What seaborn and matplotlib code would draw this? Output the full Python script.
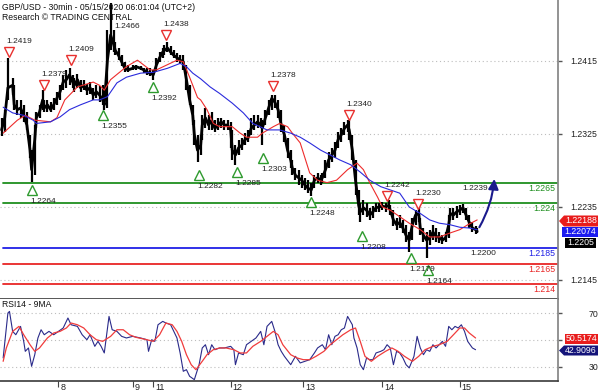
import matplotlib
matplotlib.use("Agg")
import numpy as np
import pandas as pd
import matplotlib.pyplot as plt
import matplotlib.transforms as mtransforms
from matplotlib.patches import Polygon, FancyArrowPatch
import seaborn as sns

# ---------------- data ----------------
title_line1 = "GBP/USD - 30min - 05/15/2020 06:01:04 (UTC+2)"
title_line2 = "Research \u00a9 TRADING CENTRAL"
rsi_title = "RSI14 - 9MA"

# 30-minute bar index (sampled), price close / high / low
bar_idx = [1,3,5,8,9,11,13,15,17,19, 20,22,23,25,27,28,30,32,34,36,
           38,40,42,44,46,47,49,51,53,55, 57,59,61,63,65,66,68,70,72,73,
           75,77,79,81,84,86,89,91,93,95, 97,99,101,103,104,106,108,110,112,114,
           116,118,120,122,123,125,127,128,130,132, 134,136,138,140,142,144,146,147,149,151,
           153,155,157,159,161,163,165,166,168,170, 172,174,176,178,180,182,184,185,187,189,
           191,193,195,197,199,201,203,204,206,208, 210,212,214,216,218,220,221,223,225,227,
           228,230,232,234,236,238,240,242,244,246, 247,249,251,253,255,257,259,261,263,265,
           266,268,270,272,274,276,278,280,282,284, 285,287,289,291,293,295,297,299,301,302]
close = [1.2330,1.2345,1.2382,1.2385,1.2361,1.2355,1.2357,1.2348,1.2336,1.2305,
         1.2281,1.2318,1.2345,1.2352,1.2367,1.2357,1.2361,1.2355,1.2361,1.2369,
         1.2377,1.2389,1.2392,1.2398,1.2389,1.2385,1.2392,1.2382,1.2385,1.2379,
         1.2382,1.2373,1.2377,1.2373,1.2367,1.2361,1.2416,1.2447,1.2435,1.2428,
         1.2422,1.2414,1.2406,1.2404,1.2406,1.2408,1.2406,1.2404,1.2401,1.2400,
         1.2398,1.2410,1.2419,1.2426,1.2428,1.2431,1.2426,1.2422,1.2419,1.2416,
         1.2414,1.2392,1.2367,1.2348,1.2324,1.2305,1.2311,1.2336,1.2345,1.2336,
         1.2342,1.2332,1.2336,1.2340,1.2336,1.2336,1.2330,1.2305,1.2299,1.2308,
         1.2311,1.2318,1.2320,1.2332,1.2336,1.2340,1.2336,1.2332,1.2345,1.2357,
         1.2369,1.2364,1.2355,1.2336,1.2324,1.2305,1.2293,1.2283,1.2274,1.2271,
         1.2268,1.2262,1.2258,1.2256,1.2268,1.2271,1.2268,1.2271,1.2281,1.2293,
         1.2299,1.2305,1.2318,1.2324,1.2332,1.2336,1.2330,1.2305,1.2268,1.2237,
         1.2229,1.2234,1.2231,1.2225,1.2229,1.2234,1.2235,1.2236,1.2235,1.2237,
         1.2231,1.2219,1.2213,1.2216,1.2209,1.2200,1.2194,1.2213,1.2225,1.2227,
         1.2209,1.2200,1.2194,1.2197,1.2204,1.2199,1.2197,1.2194,1.2197,1.2213,
         1.2227,1.2225,1.2229,1.2231,1.2234,1.2225,1.2216,1.2209,1.2207,1.2205]
high = [1.2345,1.2355,1.2419,1.2394,1.2385,1.2367,1.2367,1.2361,1.2352,1.2324,
        1.2305,1.2336,1.2352,1.2361,1.2379,1.2367,1.2367,1.2364,1.2369,1.2377,
        1.2385,1.2398,1.2404,1.2406,1.2398,1.2394,1.2399,1.2392,1.2392,1.2387,
        1.2389,1.2382,1.2385,1.2384,1.2385,1.2369,1.2453,1.2486,1.2453,1.2438,
        1.2431,1.2422,1.2414,1.2410,1.2410,1.2410,1.2409,1.2406,1.2406,1.2406,
        1.2404,1.2419,1.2426,1.2431,1.2435,1.2438,1.2433,1.2428,1.2425,1.2422,
        1.2422,1.2410,1.2385,1.2361,1.2342,1.2324,1.2324,1.2348,1.2357,1.2348,
        1.2352,1.2342,1.2345,1.2345,1.2342,1.2342,1.2340,1.2330,1.2311,1.2318,
        1.2320,1.2326,1.2330,1.2345,1.2348,1.2348,1.2345,1.2342,1.2355,1.2367,
        1.2373,1.2373,1.2367,1.2355,1.2336,1.2320,1.2305,1.2293,1.2283,1.2281,
        1.2274,1.2271,1.2268,1.2265,1.2274,1.2277,1.2274,1.2277,1.2293,1.2303,
        1.2308,1.2315,1.2327,1.2332,1.2340,1.2342,1.2342,1.2324,1.2293,1.2256,
        1.2240,1.2244,1.2240,1.2234,1.2236,1.2240,1.2240,1.2241,1.2240,1.2244,
        1.2237,1.2231,1.2221,1.2225,1.2219,1.2213,1.2204,1.2221,1.2231,1.2237,
        1.2221,1.2209,1.2204,1.2207,1.2213,1.2209,1.2204,1.2200,1.2204,1.2225,
        1.2234,1.2234,1.2236,1.2237,1.2239,1.2234,1.2225,1.2216,1.2211,1.2209]
low = [1.2322,1.2327,1.2367,1.2373,1.2355,1.2348,1.2345,1.2340,1.2330,1.2295,
       1.2266,1.2274,1.2332,1.2345,1.2355,1.2352,1.2352,1.2352,1.2355,1.2361,
       1.2367,1.2379,1.2382,1.2385,1.2382,1.2377,1.2382,1.2377,1.2379,1.2373,
       1.2374,1.2367,1.2369,1.2364,1.2361,1.2355,1.2357,1.2428,1.2426,1.2422,
       1.2416,1.2409,1.2401,1.2401,1.2404,1.2404,1.2404,1.2400,1.2398,1.2396,
       1.2392,1.2401,1.2414,1.2419,1.2422,1.2426,1.2422,1.2419,1.2414,1.2411,
       1.2404,1.2379,1.2361,1.2336,1.2311,1.2290,1.2299,1.2318,1.2332,1.2330,
       1.2330,1.2327,1.2330,1.2332,1.2330,1.2330,1.2308,1.2293,1.2287,1.2299,
       1.2305,1.2311,1.2315,1.2324,1.2330,1.2332,1.2332,1.2311,1.2336,1.2348,
       1.2355,1.2357,1.2345,1.2327,1.2315,1.2295,1.2283,1.2274,1.2268,1.2262,
       1.2258,1.2256,1.2252,1.2249,1.2258,1.2265,1.2262,1.2265,1.2271,1.2283,
       1.2290,1.2295,1.2308,1.2315,1.2324,1.2327,1.2318,1.2293,1.2250,1.2225,
       1.2216,1.2225,1.2223,1.2219,1.2221,1.2229,1.2229,1.2231,1.2229,1.2231,
       1.2225,1.2211,1.2207,1.2209,1.2203,1.2192,1.2179,1.2194,1.2213,1.2216,
       1.2200,1.2192,1.2172,1.2188,1.2194,1.2192,1.2190,1.2189,1.2192,1.2197,
       1.2219,1.2219,1.2221,1.2225,1.2227,1.2219,1.2209,1.2204,1.2202,1.2203]

# moving averages (red = fast, blue = slow)
fast_bar = [2,11,16,22,32,36,41,49,59,63, 66,70,80,87,95,99,112,116,120,125,
            127,131,135,139,147,152,156,163,166,173, 177,182,185,190,196,201,207,213,220,226,
            230,234,239,242,247,253,259,266,272,278, 285,291,296,302]
fast_ma = [1.2326,1.2342,1.2348,1.2342,1.2340,1.2345,1.2367,1.2383,1.2389,1.2385,
           1.2379,1.2392,1.2408,1.2416,1.2404,1.2404,1.2416,1.2414,1.2395,1.2370,
           1.2367,1.2355,1.2338,1.2334,1.2334,1.2326,1.2321,1.2321,1.2326,1.2334,
           1.2338,1.2334,1.2326,1.2314,1.2277,1.2268,1.2265,1.2268,1.2281,1.2289,
           1.2281,1.2265,1.2247,1.2235,1.2231,1.2223,1.2215,1.2207,1.2198,1.2198,
           1.2203,1.2207,1.2213,1.2219]
slow_bar = [2,8,15,21,23,32,38,44,51,59, 63,68,74,80,89,97,106,114,118,122,
            127,133,139,147,154,160,169,177,184,190, 196,203,209,215,222,228,234,241,247,253,
            259,266,272,278,285,291,297,302]
slow_ma = [1.2358,1.2351,1.2348,1.2342,1.2338,1.2340,1.2346,1.2355,1.2361,1.2367,
           1.2367,1.2371,1.2388,1.2395,1.2400,1.2401,1.2406,1.2412,1.2408,1.2400,
           1.2393,1.2383,1.2375,1.2363,1.2351,1.2338,1.2330,1.2330,1.2326,1.2321,
           1.2314,1.2305,1.2299,1.2293,1.2287,1.2278,1.2268,1.2260,1.2256,1.2252,
           1.2235,1.2227,1.2219,1.2215,1.2213,1.2210,1.2209,1.2207]

# RSI 14 and its 9-period MA
rsi_bar = [2,5,6,8,10,13,15,16,18,20, 22,24,26,28,31,34,37,40,43,45,
           49,52,55,57,60,62,64,66,69,71, 74,77,80,84,89,93,94,96,98,100,
           103,105,108,110,112,114,116,118,120,123, 126,128,130,132,134,136,139,142,146,148,
           149,151,154,156,159,162,165,167,169,172, 174,176,178,180,184,187,190,193,196,199,
           201,204,206,208,210,212,214,216,218,220, 223,224,226,228,230,232,234,236,238,241,
           243,245,247,249,251,253,255,257,259,262, 264,266,268,270,272,274,276,280,282,284,
           286,288,290,292,294,296,299,301]
rsi = [36.7,70.0,71.2,56.4,53.9,60.1,49.0,41.6,44.1,30.5, 39.1,51.5,57.6,53.9,56.4,53.9,56.4,58.9,66.3,61.3,
       60.1,53.9,50.2,53.9,45.3,49.0,45.3,40.4,67.5,57.6, 56.4,52.7,51.5,52.7,51.5,50.2,41.6,50.2,49.0,61.3,
       63.8,62.6,61.3,56.4,51.5,40.4,26.8,28.0,23.1,20.6, 31.7,44.1,46.5,39.1,46.5,42.8,44.1,44.1,45.3,42.8,
       31.7,40.4,39.1,46.5,49.0,51.5,56.4,46.5,60.1,63.8, 56.4,46.5,41.6,37.9,31.7,37.9,33.0,34.2,35.4,40.4,
       44.1,46.5,42.8,53.9,46.5,52.7,53.9,57.6,58.9,67.5, 61.3,51.5,44.1,31.7,28.0,36.7,35.4,35.4,40.4,41.6,
       42.8,46.5,44.1,31.7,41.6,40.4,36.7,31.7,29.3,37.9, 52.7,44.1,39.1,42.8,41.6,46.5,44.1,49.0,45.3,60.1,
       57.6,60.1,58.9,61.3,56.4,49.0,44.1,42.8]
rsi_ma_bar = [2,4,8,12,15,19,22,25,30,34, 38,42,45,49,53,57,61,65,70,74,
              78,82,86,93,97,101,105,109,112,115, 118,121,124,128,131,135,139,143,148,152,
              156,160,165,169,173,176,179,184,188,192, 196,200,205,209,213,217,222,225,228,231,
              235,239,244,248,252,256,261,265,269,274, 278,283,287,291,294,297,301]
rsi_ma = [34.2,44.1,56.4,60.1,53.9,46.5,41.6,44.1,51.5,55.2, 56.4,58.9,62.6,61.3,58.9,53.9,50.2,49.0,52.7,57.6,
          57.6,53.9,52.0,50.2,49.0,53.9,62.6,61.3,56.4,49.0, 39.1,31.7,28.0,34.2,39.1,42.8,44.1,44.1,42.8,40.4,
          40.4,45.3,49.0,52.7,56.4,53.9,46.5,39.1,36.7,35.4, 35.4,37.9,41.6,46.5,50.2,53.9,57.6,58.9,49.0,37.9,
          34.2,37.9,41.6,44.1,41.6,37.9,34.2,37.9,42.8,45.3, 46.5,49.0,53.9,58.9,58.9,55.2,51.5]

# pivot signals
sell_bar = [5.7, 27.8, 44.9, 105.1, 172.8, 220.9, 244.9, 264.6]
sell_price = [1.2426, 1.2385, 1.2416, 1.2447, 1.2384, 1.2348, 1.2249, 1.2239]
sell_label = ["1.2419", "1.2379", "1.2409", "1.2438", "1.2378", "1.2340", "1.2242", "1.2230"]
buy_bar = [20.3, 65.2, 96.8, 125.9, 150.0, 166.5, 196.8, 229.1, 260.1, 270.9]
buy_price = [1.2256, 1.2348, 1.2383, 1.2274, 1.2278, 1.2295, 1.2241, 1.2199, 1.2172, 1.2157]
buy_label = ["1.2264", "1.2355", "1.2392", "1.2282", "1.2285", "1.2303", "1.2248", "1.2208", "1.2179", "1.2164"]
top_cut_bar, top_cut_price, top_cut_label = 72.5, 1.2458, "1.2466"

# key levels
level_values = [1.2265, 1.224, 1.2185, 1.2165, 1.214]
level_labels = ["1.2265", "1.224", "1.2185", "1.2165", "1.214"]
level_colors = ["#1f8f1f", "#1f8f1f", "#2020e6", "#e82525", "#e82525"]

# target arrow and its notes
arrow_start = (302.5, 1.2207)
arrow_end = (313.0, 1.2273)
note_bar = [292.4, 297.5]
note_price = [1.2258, 1.2178]
note_label = ["1.2239", "1.2200"]

# axis ticks
price_ticks = [1.2415, 1.2325, 1.2235, 1.2145]
rsi_ticks = [30, 50, 70]
rsi_tick_labels = ["30", "", "70"]
day_pos = [37, 84, 97, 146, 192, 242, 291]
day_labels = ["8", "9", "11", "12", "13", "14", "15"]

# last values shown in the right-hand tags
last_fast = "1.22188"
last_slow = "1.22074"
last_close = "1.2205"
last_rsi_ma = "50.5174"
last_rsi = "42.9096"

# ---------------- drawing ----------------
sns.set_theme(style="white")
plt.rcParams['font.family'] = ['Liberation Sans', 'DejaVu Sans']

W, H = 600, 392
fig = plt.figure(figsize=(W / 100, H / 100), dpi=100)
fig.patch.set_facecolor("white")
pix = mtransforms.Affine2D().scale(1 / W, -1 / H).translate(0, 1) + fig.transFigure


def rect(x0, y0, x1, y1):
    return [x0 / W, 1 - y1 / H, (x1 - x0) / W, (y1 - y0) / H]


ax = fig.add_axes(rect(0, 0, 558, 299))
ax2 = fig.add_axes(rect(0, 299, 558, 381))
XMAX = 558 / 1.58
for a in (ax, ax2):
    a.set_xlim(0, XMAX)
    a.set_facecolor("white")
    a.spines["left"].set_visible(False)
    a.spines["top"].set_visible(False)
    a.spines["right"].set_color("#8a8a8a")
    a.spines["right"].set_linewidth(1.3)
    a.spines["bottom"].set_color("#3a3a3a")
    a.spines["bottom"].set_linewidth(1.2)

ax.set_ylim(1.21215, 1.24902)
ax2.set_ylim(19.6, 80.4)

# grids and ticks
ax.set_yticks(price_ticks)
ax.set_yticklabels([f"{v:.4f}" for v in price_ticks])
ax.grid(axis="y", color="#bdbdbd", lw=0.8, ls=(0, (1, 2.5)))
ax.grid(axis="x", visible=False)
ax.tick_params(axis="y", left=False, right=True, labelleft=False, labelright=True,
               direction="out", length=3, width=1, color="#555555",
               labelsize=6.3, pad=6, labelcolor="#222222")
ax.tick_params(axis="x", bottom=False, labelbottom=False)

ax2.set_yticks(rsi_ticks)
ax2.set_yticklabels(rsi_tick_labels)
ax2.grid(axis="y", color="#bdbdbd", lw=0.8, ls=(0, (1, 2.5)))
ax2.grid(axis="x", visible=False)
ax2.tick_params(axis="y", left=False, right=True, labelleft=False, labelright=True,
                direction="out", length=3, width=1, color="#555555",
                labelsize=6.3, pad=19, labelcolor="#222222")
ax2.set_xticks(day_pos)
ax2.tick_params(axis="x", bottom=True, labelbottom=False, direction="out",
                length=4, width=0.8, color="#444444")

# key levels
for lv, lb, col in zip(level_values, level_labels, level_colors):
    ax.axhline(lv, xmin=3 / 558, xmax=1, color=col, lw=1.3, zorder=2)
    ax.annotate(lb, xy=(1, lv), xycoords=("axes fraction", "data"),
                xytext=(-3, -6), textcoords="offset pixels",
                ha="right", va="center", color=col, fontsize=6.3)

# price bars
ax.vlines(bar_idx, low, high, color="black", lw=1.6, zorder=3)
sns.lineplot(x=bar_idx, y=close, ax=ax, color="black", lw=2.0,
             estimator=None, sort=False, zorder=3)

# moving averages
sns.lineplot(x=fast_bar, y=fast_ma, ax=ax, color="#ee2c2c", lw=0.8,
             estimator=None, sort=False, zorder=4)
sns.lineplot(x=slow_bar, y=slow_ma, ax=ax, color="#2b2bdc", lw=0.8,
             estimator=None, sort=False, zorder=4)
ax.set_xlim(0, XMAX)
ax.set_ylim(1.21215, 1.24902)
ax.set_xlabel("")
ax.set_ylabel("")

# signals
ax.plot(sell_bar, sell_price, ls="none", marker="v", ms=6.5, mfc="white",
        mec="#e8302e", mew=1.0, zorder=6)
ax.plot(buy_bar, buy_price, ls="none", marker="^", ms=6.5, mfc="white",
        mec="#2e9a2e", mew=1.0, zorder=6)
for b, p, lb in zip(sell_bar, sell_price, sell_label):
    ax.annotate(lb, xy=(b, p), xytext=(-3, 10.5), textcoords="offset pixels",
                ha="left", va="center", fontsize=6, color="#222222", zorder=7)
for b, p, lb in zip(buy_bar, buy_price, buy_label):
    ax.annotate(lb, xy=(b, p), xytext=(-2, -11.5), textcoords="offset pixels",
                ha="left", va="center", fontsize=6, color="#222222", zorder=7)
ax.text(top_cut_bar, top_cut_price, top_cut_label, ha="left", va="center",
        fontsize=6, color="#222222", zorder=7)
for b, p, lb in zip(note_bar, note_price, note_label):
    ax.text(b, p, lb, ha="left", va="center", fontsize=6, color="#222222")

# target arrow
arr = FancyArrowPatch(arrow_start, arrow_end, arrowstyle="-|>,head_length=6,head_width=3",
                      connectionstyle="arc3,rad=0.12", mutation_scale=1,
                      color="#1a1a8c", lw=1.5, zorder=8)
ax.add_patch(arr)

# RSI panel
sns.lineplot(x=rsi_bar, y=rsi, ax=ax2, color="#2a2a8a", lw=0.8,
             estimator=None, sort=False)
sns.lineplot(x=rsi_ma_bar, y=rsi_ma, ax=ax2, color="#f03c3c", lw=0.9,
             estimator=None, sort=False)
ax2.set_xlim(0, XMAX)
ax2.set_ylim(19.6, 80.4)
ax2.set_xlabel("")
ax2.set_ylabel("")

blend = mtransforms.blended_transform_factory(ax2.transData, ax2.transAxes)
blend = mtransforms.offset_copy(blend, fig=fig, x=2, y=0, units="dots")
for p, lb in zip(day_pos, day_labels):
    ax2.text(p, -0.075, lb, transform=blend, ha="left", va="center",
             fontsize=6.5, color="#222222", clip_on=False)

# titles
fig.text(2, 7, title_line1, transform=pix, ha="left", va="center",
         fontsize=6.2, color="#111111")
fig.text(2, 17.5, title_line2, transform=pix, ha="left", va="center",
         fontsize=6.2, color="#111111")
fig.text(2, 305, rsi_title, transform=pix, ha="left", va="center",
         fontsize=6.2, color="#111111")


# right-hand value tags
def tag(x0, x1, yc, h, text, color, arrow):
    if arrow:
        pts = [(x0, yc), (x0 + 5, yc - h / 2), (x1, yc - h / 2),
               (x1, yc + h / 2), (x0 + 5, yc + h / 2)]
        cx = (x0 + 5 + x1) / 2
    else:
        pts = [(x0, yc - h / 2), (x1, yc - h / 2), (x1, yc + h / 2), (x0, yc + h / 2)]
        cx = (x0 + x1) / 2
    fig.add_artist(Polygon(pts, closed=True, transform=pix, fc=color, ec="none"))
    fig.text(cx, yc, text, transform=pix, ha="center", va="center",
             fontsize=6.3, color="white")


tag(559, 598, 221, 11, last_fast, "#e81c1c", True)
tag(562, 598, 232, 10, last_slow, "#1c1cf0", False)
tag(565, 596, 243, 10, last_close, "#000000", False)
tag(565, 598, 339, 9.5, last_rsi_ma, "#e81c1c", False)
tag(559, 598, 350.5, 10, last_rsi, "#14147a", True)

fig.savefig("out.png", dpi=100, facecolor="white")
